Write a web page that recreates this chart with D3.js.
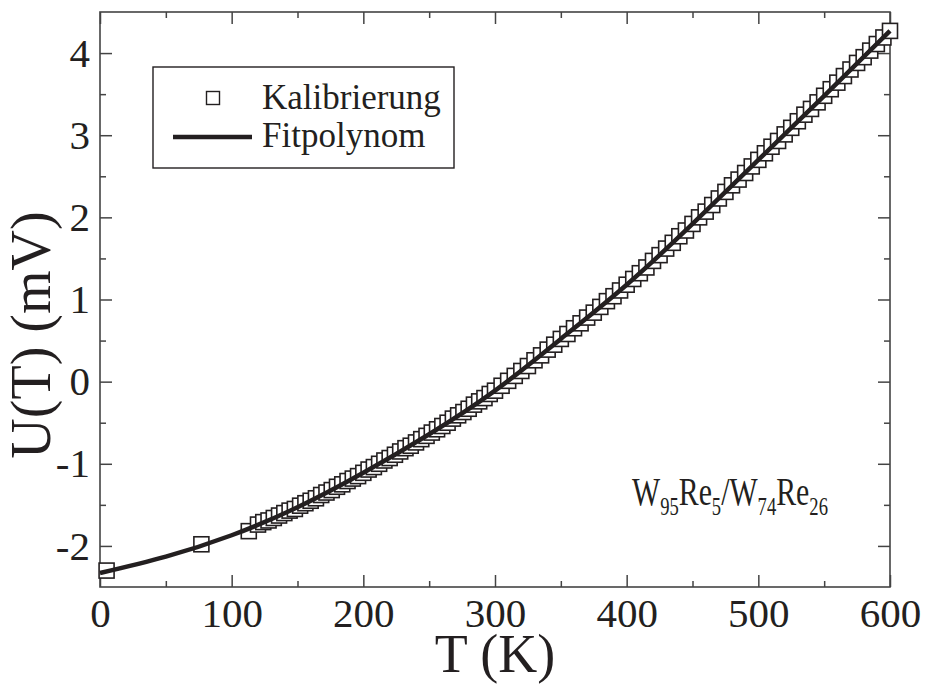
<!DOCTYPE html>
<html>
<head>
<meta charset="utf-8">
<script src="https://cdn.jsdelivr.net/npm/d3@7"></script>
<style>
  html, body { margin: 0; padding: 0; background: #fff; }
  svg { display: block; }
  text { font-family: "Liberation Serif", "Times New Roman", serif; fill: #231f20; }
</style>
</head>
<body>
<svg id="chart" width="927" height="684"></svg>
<script>
// ---- data ----
const dataT = [5, 77, 113,
  120, 124, 128, 132, 136, 140, 144, 148,
  152, 156, 160, 164, 168, 172, 176, 180, 184, 188, 192, 196,
  200, 204, 208, 212, 216, 220, 224, 228, 232, 236, 240, 244, 248,
  252, 256, 260, 264, 268, 272, 276, 280, 284, 288, 292, 296, 300,
  305, 310, 315, 320, 325, 330, 335, 340, 345, 350,
  355, 360, 365, 370, 375, 380, 385, 390, 395, 400,
  405, 410, 415, 420, 425, 430, 435, 440, 445, 450,
  455, 460, 465, 470, 475, 480, 485, 490, 495, 500,
  505, 510, 515, 520, 525, 530, 535, 540, 545, 550,
  555, 560, 565, 570, 575, 580, 585, 590, 595, 600];
const dataU = [-2.30, -1.98, -1.82,
  -1.74, -1.71, -1.69, -1.66, -1.63, -1.60, -1.57, -1.55,
  -1.51, -1.48, -1.45, -1.42, -1.38, -1.35, -1.32, -1.28, -1.25, -1.21, -1.18, -1.15,
  -1.11, -1.07, -1.04, -1.00, -0.96, -0.93, -0.89, -0.85, -0.81, -0.78, -0.74, -0.70, -0.66,
  -0.62, -0.58, -0.54, -0.50, -0.45, -0.41, -0.37, -0.33, -0.28, -0.24, -0.20, -0.15, -0.11,
  -0.05, 0.01, 0.07, 0.13, 0.19, 0.26, 0.32, 0.39, 0.45, 0.52,
  0.58, 0.65, 0.71, 0.78, 0.84, 0.91, 0.98, 1.04, 1.11, 1.18,
  1.25, 1.32, 1.39, 1.47, 1.54, 1.62, 1.69, 1.77, 1.84, 1.92,
  2.00, 2.07, 2.15, 2.23, 2.31, 2.39, 2.46, 2.54, 2.62, 2.70,
  2.78, 2.86, 2.93, 3.01, 3.09, 3.17, 3.25, 3.32, 3.40, 3.48,
  3.56, 3.64, 3.72, 3.80, 3.88, 3.95, 4.03, 4.11, 4.19, 4.27];

// fit polynomial, read at 50 K steps
const fitT = [0, 50, 100, 150, 200, 250, 300, 350, 400, 450, 500, 550, 600];
const fitU = [-2.33, -2.13, -1.87, -1.53, -1.11, -0.64, -0.11, 0.52, 1.18, 1.92, 2.70, 3.48, 4.27];

const xTicks = [0, 100, 200, 300, 400, 500, 600];
const xMinor = [50, 150, 250, 350, 450, 550];
const yTicks = [-2, -1, 0, 1, 2, 3, 4];
const yMinor = [-1.5, -0.5, 0.5, 1.5, 2.5, 3.5];

const legendLabels = ["Kalibrierung", "Fitpolynom"];
const xTitle = "T (K)";
const yTitle = "U(T) (mV)";

// ---- layout ----
const L = 100, R = 890, T = 12, B = 587;
const svg = d3.select("#chart");
const x = d3.scaleLinear().domain([0, 600]).range([L, R]);
const y = d3.scaleLinear().domain([-2.5, 4.5]).range([B, T]);
const ink = "#231f20";
const axisColor = "#444";

function styleAxis(g) {
  g.select(".domain").remove();
  g.selectAll(".tick line").attr("stroke", axisColor).attr("stroke-width", 1.5);
  g.selectAll(".tick text").style("font-family", "'Liberation Serif', serif")
    .style("font-size", "41px").attr("fill", ink);
}

// bottom
svg.append("g").attr("transform", `translate(0,${B})`)
  .call(d3.axisBottom(x).tickValues(xTicks).tickFormat(d3.format("d"))
    .tickSizeInner(-12).tickSizeOuter(0).tickPadding(11)).call(styleAxis);
svg.append("g").attr("transform", `translate(0,${B})`)
  .call(d3.axisBottom(x).tickValues(xMinor).tickFormat("")
    .tickSizeInner(-6).tickSizeOuter(0)).call(styleAxis);
// top
svg.append("g").attr("transform", `translate(0,${T})`)
  .call(d3.axisTop(x).tickValues(xTicks).tickFormat("")
    .tickSizeInner(-12).tickSizeOuter(0)).call(styleAxis);
svg.append("g").attr("transform", `translate(0,${T})`)
  .call(d3.axisTop(x).tickValues(xMinor).tickFormat("")
    .tickSizeInner(-6).tickSizeOuter(0)).call(styleAxis);
// left
svg.append("g").attr("transform", `translate(${L},0)`)
  .call(d3.axisLeft(y).tickValues(yTicks).tickFormat(d3.format("d"))
    .tickSizeInner(-12).tickSizeOuter(0).tickPadding(10)).call(styleAxis);
svg.append("g").attr("transform", `translate(${L},0)`)
  .call(d3.axisLeft(y).tickValues(yMinor).tickFormat("")
    .tickSizeInner(-6).tickSizeOuter(0)).call(styleAxis);
// right
svg.append("g").attr("transform", `translate(${R},0)`)
  .call(d3.axisRight(y).tickValues(yTicks).tickFormat("")
    .tickSizeInner(-12).tickSizeOuter(0)).call(styleAxis);
svg.append("g").attr("transform", `translate(${R},0)`)
  .call(d3.axisRight(y).tickValues(yMinor).tickFormat("")
    .tickSizeInner(-6).tickSizeOuter(0)).call(styleAxis);

// minus sign as hyphen like the reference
svg.selectAll(".tick text").each(function () {
  const t = d3.select(this); t.text(t.text().replace("\u2212", "-"));
});

// frame
svg.append("rect").attr("x", L).attr("y", T).attr("width", R - L).attr("height", B - T)
  .attr("fill", "none").attr("stroke", axisColor).attr("stroke-width", 1.6);

// data squares
const S = 15;
const pts = dataT.map((t, i) => ({ t, u: dataU[i] }));
svg.append("g").selectAll("rect").data(pts).join("rect")
  .attr("x", d => x(d.t) - S / 2).attr("y", d => y(d.u) - S / 2)
  .attr("width", S).attr("height", S)
  .attr("fill", "#fff").attr("stroke", ink).attr("stroke-width", 1.6);

// fit curve
const fit = fitT.map((t, i) => ({ t, u: fitU[i] }));
svg.append("path").datum(fit)
  .attr("d", d3.line().x(d => x(d.t)).y(d => y(d.u)).curve(d3.curveNatural))
  .attr("fill", "none").attr("stroke", ink).attr("stroke-width", 4.5);

// legend
const lg = svg.append("g");
lg.append("rect").attr("x", 153).attr("y", 67).attr("width", 301).attr("height", 101)
  .attr("fill", "#fff").attr("stroke", ink).attr("stroke-width", 1.4);
lg.append("rect").attr("x", 213 - 6.5).attr("y", 98 - 6.5).attr("width", 13).attr("height", 13)
  .attr("fill", "#fff").attr("stroke", ink).attr("stroke-width", 1.4);
lg.append("line").attr("x1", 173).attr("x2", 252).attr("y1", 137).attr("y2", 137)
  .attr("stroke", ink).attr("stroke-width", 4.5);
lg.selectAll("text").data(legendLabels).join("text")
  .attr("x", 262).attr("y", (d, i) => 109 + i * 38)
  .style("font-size", "35px").text(d => d);

// annotation W95Re5/W74Re26
const ann = svg.append("g").attr("transform", "translate(632,505)");
const at = ann.append("text").style("font-size", "40px");
const parts = [["W", 0], ["95", 1], ["Re", 0], ["5", 1], ["/W", 0], ["74", 1], ["Re", 0], ["26", 1]];
parts.forEach(([s, sub], i) => {
  const ts = at.append("tspan").text(s);
  if (sub) ts.style("font-size", "25px").attr("dy", 10);
  else if (i > 0) ts.attr("dy", -10);
});
const w = at.node().getComputedTextLength();
ann.attr("transform", `translate(632,505) scale(${196 / w},1)`);

// axis titles
svg.append("text").attr("x", 495).attr("y", 672).attr("text-anchor", "middle")
  .style("font-size", "54px").text(xTitle);
svg.append("text").attr("transform", "translate(50,335) rotate(-90)").attr("text-anchor", "middle")
  .style("font-size", "56px").text(yTitle);
</script>
</body>
</html>
